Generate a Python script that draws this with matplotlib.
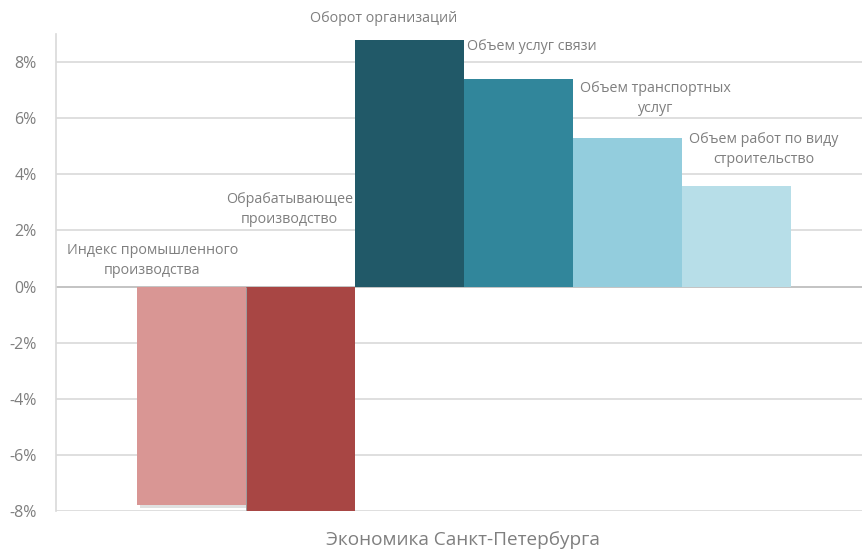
import matplotlib
matplotlib.use("Agg")
import matplotlib.pyplot as plt
import matplotlib.patheffects as pe
from matplotlib.ticker import FuncFormatter

# Growth indicators, percent
categories = [
    "Индекс промышленного\nпроизводства",
    "Обрабатывающее\nпроизводство",
    "Оборот организаций",
    "Объем услуг связи",
    "Объем транспортных\nуслуг",
    "Объем работ по виду\nстроительство",
]
values = [-7.8, -8.0, 8.8, 7.4, 5.3, 3.6]
colors = ["#D99694", "#A84644", "#215968", "#31869B", "#93CDDD", "#B7DEE8"]
y_ticks = [-8, -6, -4, -2, 0, 2, 4, 6, 8]
axis_title = "Экономика Санкт-Петербурга"

# label placement relative to each bar: (dx, dy, horizontal alignment)
label_offsets = [
    (-0.36, 8.73, "center"),
    (-0.10, 10.75, "center"),
    (-0.24, 0.74, "center"),
    (-0.47, 1.17, "left"),
    (0.26, 1.40, "center"),
    (0.25, 1.29, "center"),
]

plt.rcParams["font.family"] = ["Open Sans", "DejaVu Sans"]

fig = plt.figure(figsize=(8.64, 5.49), dpi=100)
ax = fig.add_axes([0.0648, 0.0692, 0.9329, 0.8689])

x = list(range(len(values)))
bars = ax.bar(x, values, width=1.0, color=colors, zorder=3, linewidth=0)
bars[0].set_path_effects([pe.SimplePatchShadow(offset=(2, -2), alpha=0.12,
                                               shadow_rgbFace="#000000"),
                          pe.Normal()])

# thin divider on the left edge of the second bar
b1 = bars[1]
ax.vlines(b1.get_x(), b1.get_y(), b1.get_y() + b1.get_height(),
          color="#9E9E9E", linewidth=0.7, zorder=4)

ax.set_xlim(-1.243, 6.151)
ax.set_ylim(-8, 9)
ax.set_yticks(y_ticks)
ax.yaxis.set_major_formatter(FuncFormatter(lambda v, _: f"{v:.0f}%"))
ax.set_xticks([])

ax.grid(axis="y", color="#D9D9D9", linewidth=1.2, zorder=0)
ax.axhline(0, color="#BFBFBF", linewidth=1.2, zorder=2)
for side in ("top", "right", "bottom"):
    ax.spines[side].set_visible(False)
ax.spines["left"].set_color("#D9D9D9")
ax.spines["left"].set_linewidth(1.2)
ax.tick_params(axis="y", length=0, pad=14, labelsize=11.5, labelcolor="#7F7F7F")

for i, (label, val) in enumerate(zip(categories, values)):
    dx, dy, ha = label_offsets[i]
    ax.text(i + dx, val + dy, label, ha=ha, va="center", fontsize=10.3,
            color="#7F7F7F", linespacing=1.4, clip_on=False, zorder=5)

fig.text(0.536, 0.016, axis_title, ha="center", va="center",
         fontsize=13.7, color="#7F7F7F")

fig.savefig("out.png", dpi=100, facecolor="white")
